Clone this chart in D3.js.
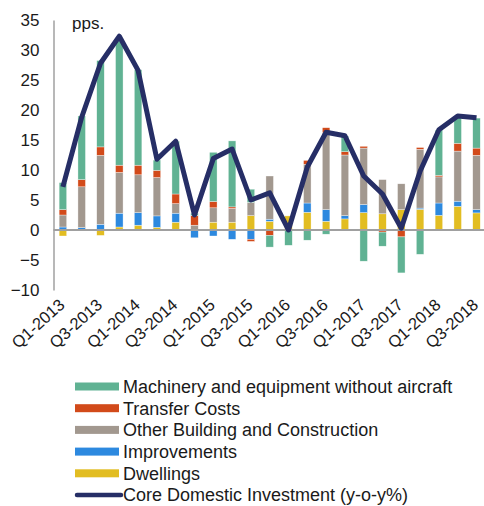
<!DOCTYPE html>
<html>
<head>
<meta charset="utf-8">
<script src="https://cdn.jsdelivr.net/npm/d3@7"></script>
<style>
  body { margin: 0; background: #fff; }
  text { font-family: Arial, "Liberation Sans", sans-serif; fill: #1a1a1a; }
</style>
</head>
<body>
<div id="chart"></div>
<script>
// Quarter labels (every bar)
const quarters = [
  "Q1-2013", "Q2-2013", "Q3-2013", "Q4-2013",
  "Q1-2014", "Q2-2014", "Q3-2014", "Q4-2014",
  "Q1-2015", "Q2-2015", "Q3-2015", "Q4-2015",
  "Q1-2016", "Q2-2016", "Q3-2016", "Q4-2016",
  "Q1-2017", "Q2-2017", "Q3-2017", "Q4-2017",
  "Q1-2018", "Q2-2018", "Q3-2018"
];

// Contributions in pps.
const dwellings = [-1.0, 0.1, -0.9, 0.5, 0.8, 0.45, 1.3, 0, 1.3, 1.3, 2.4, 1.45, 2.35, 2.95, 1.45, 1.85, 2.9, 2.7, 3.4, 3.45, 2.45, 3.95, 2.85];
const improvements = [0.5, 0.3, 0.95, 2.3, 2.1, 1.9, 1.5, -1.3, -1.0, -1.55, -1.55, 0.35, 0, 1.55, 1.95, 0.55, 1.35, 0, 0, 0.2, 2.05, 0.85, 0.55];
const otherBuilding = [2.0, 6.8, 11.5, 6.8, 6.3, 6.4, 1.6, 0.8, 2.4, 2.3, 2.2, 7.2, 0, 6.45, 12.8, 10.1, 9.4, 5.7, 4.3, 9.8, 4.35, 8.35, 9.05];
const transferCosts = [0.9, 1.2, 1.4, 1.2, 1.6, 1.2, 1.6, 1.6, 1.05, 0.25, -0.35, -0.9, 0, 0.65, 0.85, 0.55, 0.3, -0.35, -1.15, 0.3, 0.25, 1.3, 1.2];
const machinery = [4.5, 10.6, 14.4, 20.7, 15.9, 1.7, 8.8, 0.4, 8.2, 11.0, 2.2, -1.95, -2.55, -1.7, -0.7, 2.6, -5.2, -2.35, -6.0, -4.05, 7.55, 4.45, 5.0];
const coreInvestment = [7.2, 18.8, 27.8, 32.3, 26.6, 11.8, 14.8, 2.5, 11.9, 13.5, 5.0, 6.2, 0.0, 10.5, 16.3, 15.7, 9.0, 6.0, 0.3, 9.8, 16.7, 19.0, 18.7];

const yTicks = [-10, -5, 0, 5, 10, 15, 20, 25, 30, 35];

// Series in stacking order (bottom first)
const series = [
  { key: "dwellings", name: "Dwellings", color: "#E2BD22", values: dwellings },
  { key: "improvements", name: "Improvements", color: "#2D89DF", values: improvements },
  { key: "otherBuilding", name: "Other Building and Construction", color: "#A2988F", values: otherBuilding },
  { key: "transferCosts", name: "Transfer Costs", color: "#D24A1A", values: transferCosts },
  { key: "machinery", name: "Machinery and equipment without aircraft", color: "#60B293", values: machinery }
];
const lineColor = "#262E66";

const width = 484;
const height = 506;

const svg = d3
  .select("#chart")
  .append("svg")
  .attr("width", width)
  .attr("height", height);

// Build rows for d3.stack
const rows = quarters.map((q, i) => {
  const row = { quarter: q };
  series.forEach((s) => (row[s.key] = s.values[i]));
  return row;
});

const stacked = d3
  .stack()
  .keys(series.map((s) => s.key))
  .offset(d3.stackOffsetDiverging)(rows);

const x = d3
  .scaleBand()
  .domain(quarters)
  .range([53.5, 485.9])
  .paddingInner(0.6)
  .paddingOuter(0.3);

const y = d3.scaleLinear().domain([-10, 35]).range([290, 20]);

// Bars
svg
  .append("g")
  .selectAll("g")
  .data(stacked)
  .enter()
  .append("g")
  .attr("fill", (d, i) => series[i].color)
  .selectAll("rect")
  .data((d) => d)
  .enter()
  .append("rect")
  .attr("x", (d) => x(d.data.quarter))
  .attr("width", x.bandwidth())
  .attr("y", (d) => y(Math.max(d[0], d[1])))
  .attr("height", (d) => Math.abs(y(d[0]) - y(d[1])))
  .attr("stroke", "#fff")
  .attr("stroke-width", 0.5)
  .attr("stroke-opacity", 0.7);

// Y axis
const yAxis = svg
  .append("g")
  .attr("transform", "translate(53.5,0)")
  .call(d3.axisLeft(y).tickValues(yTicks).tickSize(0).tickPadding(14));
yAxis.select(".domain").attr("stroke", "#a0a0a0").attr("stroke-width", 1.5);
yAxis
  .selectAll("text")
  .style("font-family", "Arial, 'Liberation Sans', sans-serif")
  .style("font-size", "17px")
  .attr("fill", "#1a1a1a");

// Zero line
svg
  .append("line")
  .attr("x1", 53.5)
  .attr("x2", width)
  .attr("y1", y(0))
  .attr("y2", y(0))
  .attr("stroke", "#a0a0a0")
  .attr("stroke-width", 2);

// X labels, every other quarter
svg
  .append("g")
  .selectAll("text")
  .data(quarters.filter((q, i) => i % 2 === 0))
  .enter()
  .append("text")
  .attr(
    "transform",
    (d) => `translate(${x(d) + x.bandwidth() / 2 - 1},${302}) rotate(-42)`
  )
  .attr("text-anchor", "end")
  .attr("dy", "0.35em")
  .style("font-size", "16.5px")
  .text((d) => d);

// Unit label
svg
  .append("text")
  .attr("x", 72)
  .attr("y", 28.5)
  .style("font-size", "17px")
  .text("pps.");

// Core domestic investment line
const line = d3
  .line()
  .x((d, i) => x(quarters[i]) + x.bandwidth() / 2)
  .y((d) => y(d));

svg
  .append("path")
  .datum(coreInvestment)
  .attr("d", line)
  .attr("fill", "none")
  .attr("stroke", lineColor)
  .attr("stroke-width", 5)
  .attr("stroke-linejoin", "round");

// Legend
const legendItems = series
  .slice()
  .reverse()
  .map((s) => ({ name: s.name, color: s.color, type: "bar" }))
  .concat([{ name: "Core Domestic Investment (y-o-y%)", color: lineColor, type: "line" }]);

const legend = svg
  .append("g")
  .selectAll("g")
  .data(legendItems)
  .enter()
  .append("g")
  .attr("transform", (d, i) => `translate(75,${386.5 + i * 21.7})`);

legend
  .filter((d) => d.type === "bar")
  .append("rect")
  .attr("x", 0)
  .attr("y", -4)
  .attr("width", 44)
  .attr("height", 8)
  .attr("fill", (d) => d.color);

legend
  .filter((d) => d.type === "line")
  .append("line")
  .attr("x1", 2)
  .attr("x2", 46)
  .attr("y1", 0)
  .attr("y2", 0)
  .attr("stroke", (d) => d.color)
  .attr("stroke-width", 4.5)
  .attr("stroke-linecap", "round");

legend
  .append("text")
  .attr("x", 48)
  .attr("dy", "0.35em")
  .style("font-size", "18px")
  .text((d) => d.name);
</script>
</body>
</html>
